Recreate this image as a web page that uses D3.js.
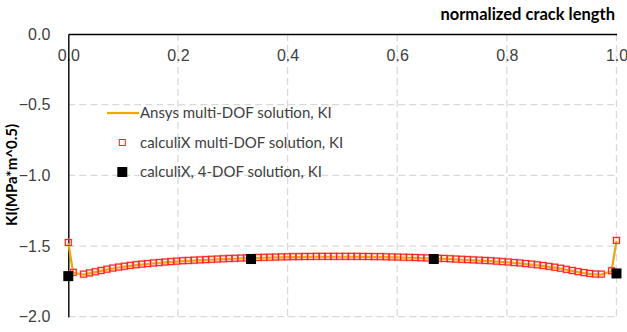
<!DOCTYPE html>
<html>
<head>
<meta charset="utf-8">
<script src="https://cdn.jsdelivr.net/npm/d3@7"></script>
<style>
  body { margin: 0; background: #fff; }
  svg { font-family: Lato, "Noto Sans", sans-serif; }
</style>
</head>
<body>
<div id="chart"></div>
<script>
// Node positions along the crack front (normalized)
const crackPos = [
  0, 0.009,
  0.028, 0.0386, 0.0492, 0.0598, 0.0704, 0.0811, 0.0917, 0.1023, 0.1129, 0.1235,
  0.1341, 0.1447, 0.1553, 0.1659, 0.1765, 0.1872, 0.1978, 0.2084, 0.2190, 0.2296,
  0.2402, 0.2508, 0.2614, 0.2720, 0.2826, 0.2933, 0.3039, 0.3145, 0.3251, 0.3357,
  0.3463, 0.3569, 0.3675, 0.3781, 0.3887, 0.3994, 0.4100, 0.4206, 0.4312, 0.4418,
  0.4524, 0.4630, 0.4736, 0.4842, 0.4948, 0.5055, 0.5161, 0.5267, 0.5373, 0.5479,
  0.5585, 0.5691, 0.5797, 0.5903, 0.6009, 0.6116, 0.6222, 0.6328, 0.6434, 0.6540,
  0.6646, 0.6752, 0.6858, 0.6964, 0.7070, 0.7177, 0.7283, 0.7389, 0.7495, 0.7601,
  0.7707, 0.7813, 0.7919, 0.8025, 0.8131, 0.8238, 0.8344, 0.8450, 0.8556, 0.8662,
  0.8768, 0.8874, 0.8980, 0.9086, 0.9192, 0.9299, 0.9405, 0.9511, 0.9617, 0.9723,
  0.991, 1.0
];

// calculiX multi-DOF solution, KI
const calculixKI = [
  -1.475, -1.686,
  -1.699, -1.690, -1.682, -1.673, -1.664, -1.656, -1.649, -1.643, -1.637, -1.632,
  -1.628, -1.624, -1.620, -1.617, -1.613, -1.610, -1.607, -1.604, -1.602, -1.600,
  -1.598, -1.596, -1.594, -1.592, -1.590, -1.588, -1.587, -1.585, -1.584, -1.583,
  -1.581, -1.580, -1.579, -1.578, -1.577, -1.576, -1.575, -1.575, -1.574, -1.574,
  -1.573, -1.573, -1.573, -1.573, -1.573, -1.573, -1.573, -1.573, -1.574, -1.574,
  -1.575, -1.575, -1.576, -1.577, -1.578, -1.579, -1.580, -1.581, -1.583, -1.584,
  -1.585, -1.587, -1.588, -1.590, -1.592, -1.594, -1.596, -1.598, -1.600, -1.602,
  -1.604, -1.607, -1.610, -1.613, -1.617, -1.620, -1.624, -1.628, -1.633, -1.638,
  -1.644, -1.650, -1.657, -1.665, -1.673, -1.681, -1.688, -1.694, -1.698, -1.699,
  -1.675, -1.460
];

// Ansys multi-DOF solution, KI (same nodes, line sits just under the markers)
const ansysKI = [
  -1.478, -1.690,
  -1.702, -1.693, -1.685, -1.676, -1.667, -1.659, -1.652, -1.646, -1.640, -1.635,
  -1.631, -1.627, -1.623, -1.620, -1.616, -1.613, -1.610, -1.607, -1.605, -1.603,
  -1.601, -1.599, -1.597, -1.595, -1.593, -1.591, -1.590, -1.588, -1.587, -1.586,
  -1.584, -1.583, -1.582, -1.581, -1.580, -1.579, -1.578, -1.578, -1.577, -1.577,
  -1.576, -1.576, -1.576, -1.576, -1.576, -1.576, -1.576, -1.576, -1.577, -1.577,
  -1.578, -1.578, -1.579, -1.580, -1.581, -1.582, -1.583, -1.584, -1.586, -1.587,
  -1.588, -1.590, -1.591, -1.593, -1.595, -1.597, -1.599, -1.601, -1.603, -1.605,
  -1.607, -1.610, -1.613, -1.616, -1.620, -1.623, -1.627, -1.631, -1.636, -1.641,
  -1.647, -1.653, -1.660, -1.668, -1.676, -1.684, -1.691, -1.697, -1.701, -1.702,
  -1.678, -1.463
];

// calculiX, 4-DOF solution, KI
const fourDofPos = [0, 1 / 3, 2 / 3, 1];
const fourDofKI = [-1.713, -1.592, -1.592, -1.694];

const xTicks = [0, 0.2, 0.4, 0.6, 0.8, 1.0];
const yTicks = [0, -0.5, -1.0, -1.5, -2.0];

const width = 627, height = 332;
const margin = { top: 34, right: 10.5, bottom: 15.3, left: 68.3 };
const innerW = width - margin.left - margin.right;
const innerH = height - margin.top - margin.bottom;

const svg = d3.select('#chart').append('svg')
    .attr('width', width)
    .attr('height', height);

const g = svg.append('g')
    .attr('transform', `translate(${margin.left},${margin.top})`);

const x = d3.scaleLinear().domain([0, 1]).range([0, innerW]);
const y = d3.scaleLinear().domain([0, -2]).range([0, innerH]);

// Gridlines
g.append('g')
    .selectAll('line')
    .data(yTicks.filter(d => d !== 0))
    .enter().append('line')
    .attr('x1', 0).attr('x2', innerW)
    .attr('y1', d => y(d)).attr('y2', d => y(d))
    .attr('stroke', '#d9d9d9').attr('stroke-width', 1.3)
    .attr('stroke-dasharray', '7,4');

g.append('g')
    .selectAll('line')
    .data(xTicks.filter(d => d !== 0))
    .enter().append('line')
    .attr('x1', d => x(d)).attr('x2', d => x(d))
    .attr('y1', 0).attr('y2', innerH)
    .attr('stroke', '#d9d9d9').attr('stroke-width', 1.3)
    .attr('stroke-dasharray', '7,4');

// Axes (top x-axis at y = 0, left y-axis at x = 0)
const xAxis = g.append('g')
    .call(d3.axisBottom(x).tickValues(xTicks).tickFormat(d3.format('.1f')).tickSize(0).tickPadding(16));
xAxis.select('.domain').attr('stroke', '#000').attr('stroke-width', 1.4);
xAxis.selectAll('text').style('font-size', '16px').attr('fill', '#404040');

const yAxis = g.append('g')
    .call(d3.axisLeft(y).tickValues(yTicks).tickFormat(d3.format('.1f')).tickSize(0).tickPadding(18));
yAxis.select('.domain').attr('stroke', '#000').attr('stroke-width', 1.4);
yAxis.selectAll('text').style('font-size', '16px').attr('fill', '#404040');

// Axis titles
svg.append('text')
    .attr('x', 615).attr('y', 20)
    .attr('text-anchor', 'end')
    .style('font-size', '16.5px').style('font-weight', 'bold')
    .attr('fill', '#000')
    .text('normalized crack length');

svg.append('text')
    .attr('transform', 'translate(17,175) rotate(-90)')
    .attr('text-anchor', 'middle')
    .style('font-size', '15px').style('font-weight', 'bold')
    .attr('fill', '#000')
    .text('KI(MPa*m^0.5)');

// Ansys line
const ansysData = crackPos.map((p, i) => [p, ansysKI[i]]);
g.append('path')
    .datum(ansysData)
    .attr('d', d3.line().x(d => x(d[0])).y(d => y(d[1])))
    .attr('fill', 'none')
    .attr('stroke', '#f0a800')
    .attr('stroke-width', 2.2);

// calculiX multi-DOF markers
const ms = 6;
const calcData = crackPos.map((p, i) => [p, calculixKI[i]]);
const calcG = g.append('g');
calcG.selectAll('rect.halo')
    .data(calcData)
    .enter().append('rect')
    .attr('class', 'halo')
    .attr('x', d => x(d[0]) - ms / 2).attr('y', d => y(d[1]) - ms / 2)
    .attr('width', ms).attr('height', ms)
    .attr('fill', 'none').attr('stroke', '#ff9a9a').attr('stroke-width', 2.2).attr('opacity', 0.6);
calcG.selectAll('rect.mk')
    .data(calcData)
    .enter().append('rect')
    .attr('class', 'mk')
    .attr('x', d => x(d[0]) - ms / 2).attr('y', d => y(d[1]) - ms / 2)
    .attr('width', ms).attr('height', ms)
    .attr('fill', 'none').attr('stroke', '#ff2020').attr('stroke-width', 1);

// calculiX 4-DOF markers
const bs = 10;
g.append('g')
    .selectAll('rect')
    .data(fourDofPos.map((p, i) => [p, fourDofKI[i]]))
    .enter().append('rect')
    .attr('x', d => x(d[0]) - bs / 2).attr('y', d => y(d[1]) - bs / 2)
    .attr('width', bs).attr('height', bs)
    .attr('fill', '#000');

// Legend
const legend = svg.append('g').attr('transform', 'translate(107,0)');
const rowY = [113, 142.5, 172];
const labels = ['Ansys multi-DOF solution, KI', 'calculiX multi-DOF solution, KI', 'calculiX, 4-DOF solution, KI'];

legend.append('line')
    .attr('x1', 0).attr('x2', 32)
    .attr('y1', rowY[0]).attr('y2', rowY[0])
    .attr('stroke', '#f0a800').attr('stroke-width', 2.2);

legend.append('rect')
    .attr('x', 15.3 - ms / 2).attr('y', rowY[1] - ms / 2)
    .attr('width', ms).attr('height', ms)
    .attr('fill', 'none').attr('stroke', '#ff2020').attr('stroke-width', 1);

legend.append('rect')
    .attr('x', 15.3 - bs / 2).attr('y', rowY[2] - bs / 2)
    .attr('width', bs).attr('height', bs)
    .attr('fill', '#000');

legend.selectAll('text.lbl')
    .data(labels)
    .enter().append('text')
    .attr('class', 'lbl')
    .attr('x', 33).attr('y', (d, i) => rowY[i])
    .attr('dy', '0.35em')
    .style('font-size', '15px')
    .attr('fill', '#404040')
    .text(d => d);
</script>
</body>
</html>
